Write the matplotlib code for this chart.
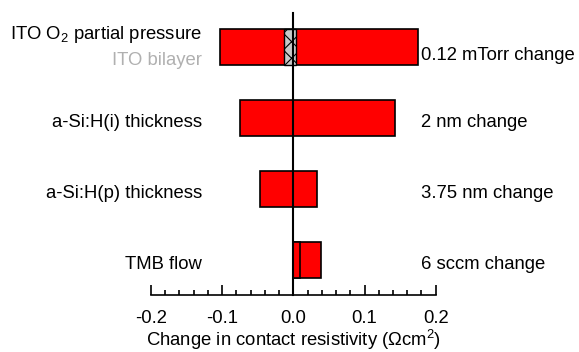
import matplotlib
matplotlib.use('Agg')
import matplotlib.pyplot as plt
from matplotlib.ticker import MultipleLocator

plt.rcParams['font.family'] = ['Liberation Sans', 'DejaVu Sans']
plt.rcParams['mathtext.fontset'] = 'custom'
plt.rcParams['mathtext.rm'] = 'Liberation Sans'
plt.rcParams['mathtext.it'] = 'Liberation Sans:italic'
plt.rcParams['hatch.linewidth'] = 0.8

# parameters (top to bottom)
params = ['ITO O$_2$ partial pressure', 'a-Si:H(i) thickness', 'a-Si:H(p) thickness', 'TMB flow']
changes = ['0.12 mTorr change', '2 nm change', '3.75 nm change', '6 sccm change']
# change in contact resistivity for the low / high side of each parameter
low = [-0.103, -0.075, -0.047, 0.010]
high = [0.1755, 0.1435, 0.033, 0.039]
# ITO bilayer reference band
bilayer_range = [-0.0133, 0.0042]

xticks = [-0.2, -0.1, 0.0, 0.1, 0.2]
xticklabels = ['-0.2', '-0.1', '0.0', '0.1', '0.2']

fs = 13.3

fig = plt.figure(figsize=(5.79, 3.52), dpi=100)
ax = fig.add_axes([151 / 579, 57 / 352, 284.7 / 579, 295 / 352])

ypos = list(range(len(params)))
h = 0.5
# draw the longer bar first so the shorter one sits on top
for y, lo, hi in zip(ypos, low, high):
    vals = sorted([lo, hi], key=abs, reverse=True)
    for v in vals:
        ax.barh(y, v, left=0, height=h, color='#ff0000', edgecolor='black', linewidth=1.2, zorder=2)

# ITO bilayer hatched band
ax.barh(0, bilayer_range[1] - bilayer_range[0], left=bilayer_range[0], height=h,
        color='#c8c8c8', edgecolor='black', hatch='xx', linewidth=1.0, zorder=3)

# zero line
ax.plot([0, 0], [-0.48, 3.49], color='black', lw=1.5, zorder=4, clip_on=False)

# labels
for y, p, c in zip(ypos, params, changes):
    if y == 0:
        ax.text(-0.128, y - 0.18, p, ha='right', va='center', fontsize=fs, clip_on=False)
        ax.text(-0.128, y + 0.19, 'ITO bilayer', ha='right', va='center', fontsize=fs,
                color='#b0b0b0', clip_on=False)
        ax.text(0.179, y + 0.12, c, ha='left', va='center', fontsize=fs, clip_on=False)
    else:
        ax.text(-0.128, y + 0.06, p, ha='right', va='center', fontsize=fs, clip_on=False)
        ax.text(0.179, y + 0.06, c, ha='left', va='center', fontsize=fs, clip_on=False)

ax.set_xlim(-0.2, 0.2)
ax.set_ylim(3.493, -0.662)
ax.set_xticks(xticks)
ax.set_xticklabels(xticklabels)
ax.xaxis.set_minor_locator(MultipleLocator(0.02))
ax.tick_params(axis='x', which='major', direction='in', length=7.5, width=1.2, labelsize=fs, pad=11)
ax.tick_params(axis='x', which='minor', direction='in', length=3.8, width=1.2)
ax.set_yticks([])
for s in ['left', 'right', 'top']:
    ax.spines[s].set_visible(False)
ax.spines['bottom'].set_linewidth(1.2)
ax.patch.set_alpha(0)

ax.set_xlabel('Change in contact resistivity (Ωcm$^2$)', fontsize=fs)
ax.xaxis.set_label_coords(0.5, -0.11)

fig.savefig('out.png', dpi=100)
